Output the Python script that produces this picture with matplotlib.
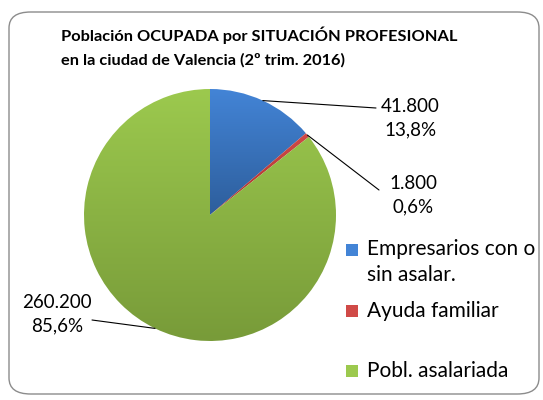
import numpy as np
import matplotlib.pyplot as plt
from matplotlib.patches import FancyBboxPatch, Rectangle
from matplotlib.colors import LinearSegmentedColormap

# data
categorias = ["Empresarios con o\nsin asalar.", "Ayuda familiar", "Pobl. asalariada"]
valores = [41800, 1800, 260200]
color_top = ["#4384d6", "#d04a47", "#9cc94e"]
color_bot = ["#2d5e9c", "#a8302e", "#789b39"]
titulo = "Población OCUPADA por SITUACIÓN PROFESIONAL\nen la ciudad de Valencia (2º trim. 2016)"

W, H = 543, 400
plt.rcParams['font.family'] = ['Lato', 'DejaVu Sans']

fig = plt.figure(figsize=(W / 100, H / 100), dpi=100)

def px(x, y):
    return (x / W, 1 - y / H)

# rounded border
fig.patches.append(FancyBboxPatch(px(9, 394), 530 / W, 382 / H,
                                  boxstyle="round,pad=0,rounding_size=0.04",
                                  transform=fig.transFigure, fc="none",
                                  ec="#8c8c8c", lw=1.0, zorder=-1))

fig.text(*px(61, 47), titulo, fontsize=11.8, fontweight='bold',
         va='center', ha='left', linespacing=1.85)

# pie axes: centre (210, 215) radius 126 px
cx, cy, r = 210, 215, 126
ax = fig.add_axes([(cx - r) / W, (H - cy - r) / H, 2 * r / W, 2 * r / H])
wedges, _ = ax.pie(valores, startangle=90, counterclock=False,
                   colors=color_top, radius=1)
ax.set_xlim(-1, 1)
ax.set_ylim(-1, 1)
ax.set_aspect('equal')
ax.axis('off')

# vertical gradient fill for each wedge
for w, ct, cb in zip(wedges, color_top, color_bot):
    bb = w.get_path().get_extents()
    cmap = LinearSegmentedColormap.from_list("g", [cb, ct])
    grad = np.linspace(0, 1, 200).reshape(-1, 1)
    im = ax.imshow(grad, cmap=cmap, origin='lower', aspect='auto',
                   extent=[bb.x0, bb.x1, bb.y0, bb.y1], zorder=2)
    im.set_clip_path(w)
    w.set_facecolor('none')
    w.set_edgecolor('none')

# data labels with leader lines
total = sum(valores)
pos_txt = [(410, 118), (413, 195), (57, 314)]
fin_linea = [(376, 108), (379, 190), (92, 320)]
acum = 0
for v, (tx, ty), (lx, ly) in zip(valores, pos_txt, fin_linea):
    mid = 90 - (acum + v / 2) / total * 360
    acum += v
    x0, y0 = np.cos(np.radians(mid)), np.sin(np.radians(mid))
    etiqueta = f"{v:,}".replace(",", ".") + "\n" + f"{v / total * 100:.1f}".replace(".", ",") + "%"
    fig.text(*px(tx, ty), etiqueta, fontsize=13.5, ha='center', va='center',
             linespacing=1.45)
    ax.annotate("", xy=(x0, y0), xycoords='data',
                xytext=px(lx, ly), textcoords='figure fraction',
                arrowprops=dict(arrowstyle='-', color='black', lw=0.8,
                                shrinkA=0, shrinkB=0), zorder=3)

# legend
leg_y = [250, 311, 371]
for cat, ct, cb, ly in zip(categorias, color_top, color_bot, leg_y):
    fig.patches.append(Rectangle(px(346, ly + 6), 12 / W, 12 / H,
                                 transform=fig.transFigure, fc=ct, ec='none'))
    fig.text(*px(367, ly - 11 if '\n' in cat else ly), cat, fontsize=15,
             ha='left', va='top' if '\n' in cat else 'center',
             linespacing=1.4)

fig.savefig("out.png", dpi=100)
